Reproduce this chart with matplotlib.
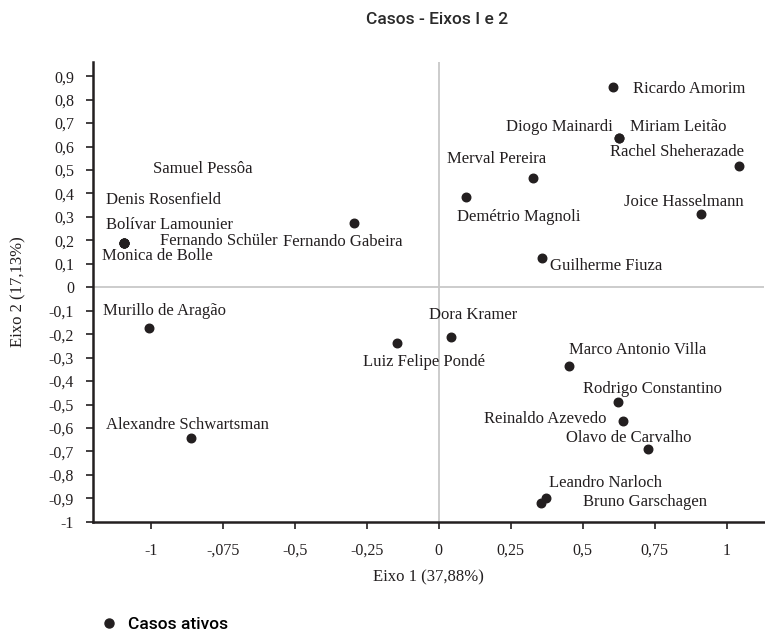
import matplotlib
matplotlib.use("Agg")
import matplotlib.pyplot as plt
from matplotlib.lines import Line2D

# dados: coordenadas dos casos nos eixos 1 e 2
nomes = ["Ricardo Amorim", "Miriam Leitão", "Diogo Mainardi", "Rachel Sheherazade",
         "Merval Pereira", "Demétrio Magnoli", "Joice Hasselmann", "Guilherme Fiuza",
         "Fernando Gabeira", "Fernando Schüler", "Samuel Pessôa", "Denis Rosenfield",
         "Bolívar Lamounier", "Monica de Bolle", "Murillo de Aragão",
         "Alexandre Schwartsman", "Luiz Felipe Pondé", "Dora Kramer",
         "Marco Antonio Villa", "Rodrigo Constantino", "Reinaldo Azevedo",
         "Olavo de Carvalho", "Leandro Narloch", "Bruno Garschagen"]
eixo1 = [0.605, 0.628, 0.628, 1.044, 0.326, 0.096, 0.911, 0.359,
         -0.295, -1.094, -1.094, -1.094, -1.094, -1.094, -1.007,
         -0.860, -0.144, 0.043, 0.453, 0.624, 0.642, 0.726, 0.373, 0.357]
eixo2 = [0.855, 0.638, 0.638, 0.516, 0.466, 0.385, 0.311, 0.126,
         0.274, 0.188, 0.188, 0.188, 0.188, 0.188, -0.174,
         -0.641, -0.236, -0.211, -0.336, -0.491, -0.570, -0.688, -0.900, -0.920]

xticks = [-1, -0.75, -0.5, -0.25, 0, 0.25, 0.5, 0.75, 1]
xticklabels = ["-1", "-,075", "-0,5", "-0,25", "0", "0,25", "0,5", "0,75", "1"]
yticks = [round(-1 + 0.1 * i, 1) for i in range(20)]
yticklabels = ["-1"] + ["-0,%d" % i for i in range(9, 0, -1)] + ["0"] + ["0,%d" % i for i in range(1, 10)]

# posição dos rótulos (deslocamento em pixels, alinhamento)
rotulos = {
    "Ricardo Amorim": (20, -2, "left"),
    "Miriam Leitão": (11, 11, "left"),
    "Diogo Mainardi": (-7, 11, "right"),
    "Rachel Sheherazade": (5, 14, "right"),
    "Merval Pereira": (-86, 19, "left"),
    "Demétrio Magnoli": (-9, -20, "left"),
    "Joice Hasselmann": (43, 12, "right"),
    "Guilherme Fiuza": (8, -8, "left"),
    "Fernando Gabeira": (-71, -19, "left"),
    "Fernando Schüler": (36, 2, "left"),
    "Samuel Pessôa": (29, 74, "left"),
    "Denis Rosenfield": (-18, 43, "left"),
    "Bolívar Lamounier": (-18, 18, "left"),
    "Monica de Bolle": (-22, -13, "left"),
    "Murillo de Aragão": (-46, 17, "left"),
    "Alexandre Schwartsman": (-85, 13, "left"),
    "Luiz Felipe Pondé": (-34, -19, "left"),
    "Dora Kramer": (-22, 22, "left"),
    "Marco Antonio Villa": (0, 16, "left"),
    "Rodrigo Constantino": (-35, 13, "left"),
    "Reinaldo Azevedo": (-17, 2, "right"),
    "Olavo de Carvalho": (-82, 11, "left"),
    "Leandro Narloch": (3, 15, "left"),
    "Bruno Garschagen": (42, 1, "left"),
}

serif = ["Liberation Serif", "DejaVu Serif"]
sans = ["Roboto", "DejaVu Sans"]
cor_texto = "#231f20"

fig = plt.figure(figsize=(7.65, 6.34), dpi=100)
ax = fig.add_axes([0.122, 0.177, 0.877, 0.725])

ax.axhline(0, color="#c8c8c8", lw=1.3, zorder=1)
ax.axvline(0, color="#c8c8c8", lw=1.3, zorder=1)

ax.scatter(eixo1, eixo2, s=38, color=cor_texto, zorder=3)

for nome, x, y in zip(nomes, eixo1, eixo2):
    dx, dy, ha = rotulos[nome]
    ax.annotate(nome, (x, y), xytext=(dx, dy), textcoords="offset pixels",
                ha=ha, va="center", fontsize=12, family=serif, color=cor_texto)

ax.set_xlim(-1.2, 1.131)
ax.set_ylim(-1, 0.96)
ax.set_xticks(xticks)
ax.set_xticklabels(xticklabels, family=serif, fontsize=11.5, color=cor_texto)
ax.set_yticks(yticks)
ax.set_yticklabels(yticklabels, family=serif, fontsize=11.5, color=cor_texto)
ax.tick_params(axis="both", direction="out", length=5, width=1.2, color=cor_texto)
ax.tick_params(axis="y", pad=9)
ax.tick_params(axis="x", pad=10)

for lado in ["top", "right"]:
    ax.spines[lado].set_visible(False)
for lado in ["left", "bottom"]:
    ax.spines[lado].set_linewidth(1.8)
    ax.spines[lado].set_color(cor_texto)

ax.set_xlabel("Eixo 1 (37,88%)", family=serif, fontsize=12, color=cor_texto, labelpad=8)
ax.set_ylabel("Eixo 2 (17,13%)", family=serif, fontsize=12, color=cor_texto, labelpad=16)

fig.text(437 / 765, 1 - 20 / 634, "Casos - Eixos I e 2", ha="center", va="center",
         fontsize=12.5, family=sans, weight="medium", color="#2a2a2a")

marcador = Line2D([], [], marker="o", ls="none", color=cor_texto, markersize=6.5)
fig.legend([marcador], ["Casos ativos"], loc="center left",
           bbox_to_anchor=(85 / 765, 1 - 624 / 634), frameon=False,
           prop={"family": sans, "size": 12.5, "weight": "medium"},
           handletextpad=0.6, handlelength=1.0)

fig.savefig("out.png", dpi=100)
